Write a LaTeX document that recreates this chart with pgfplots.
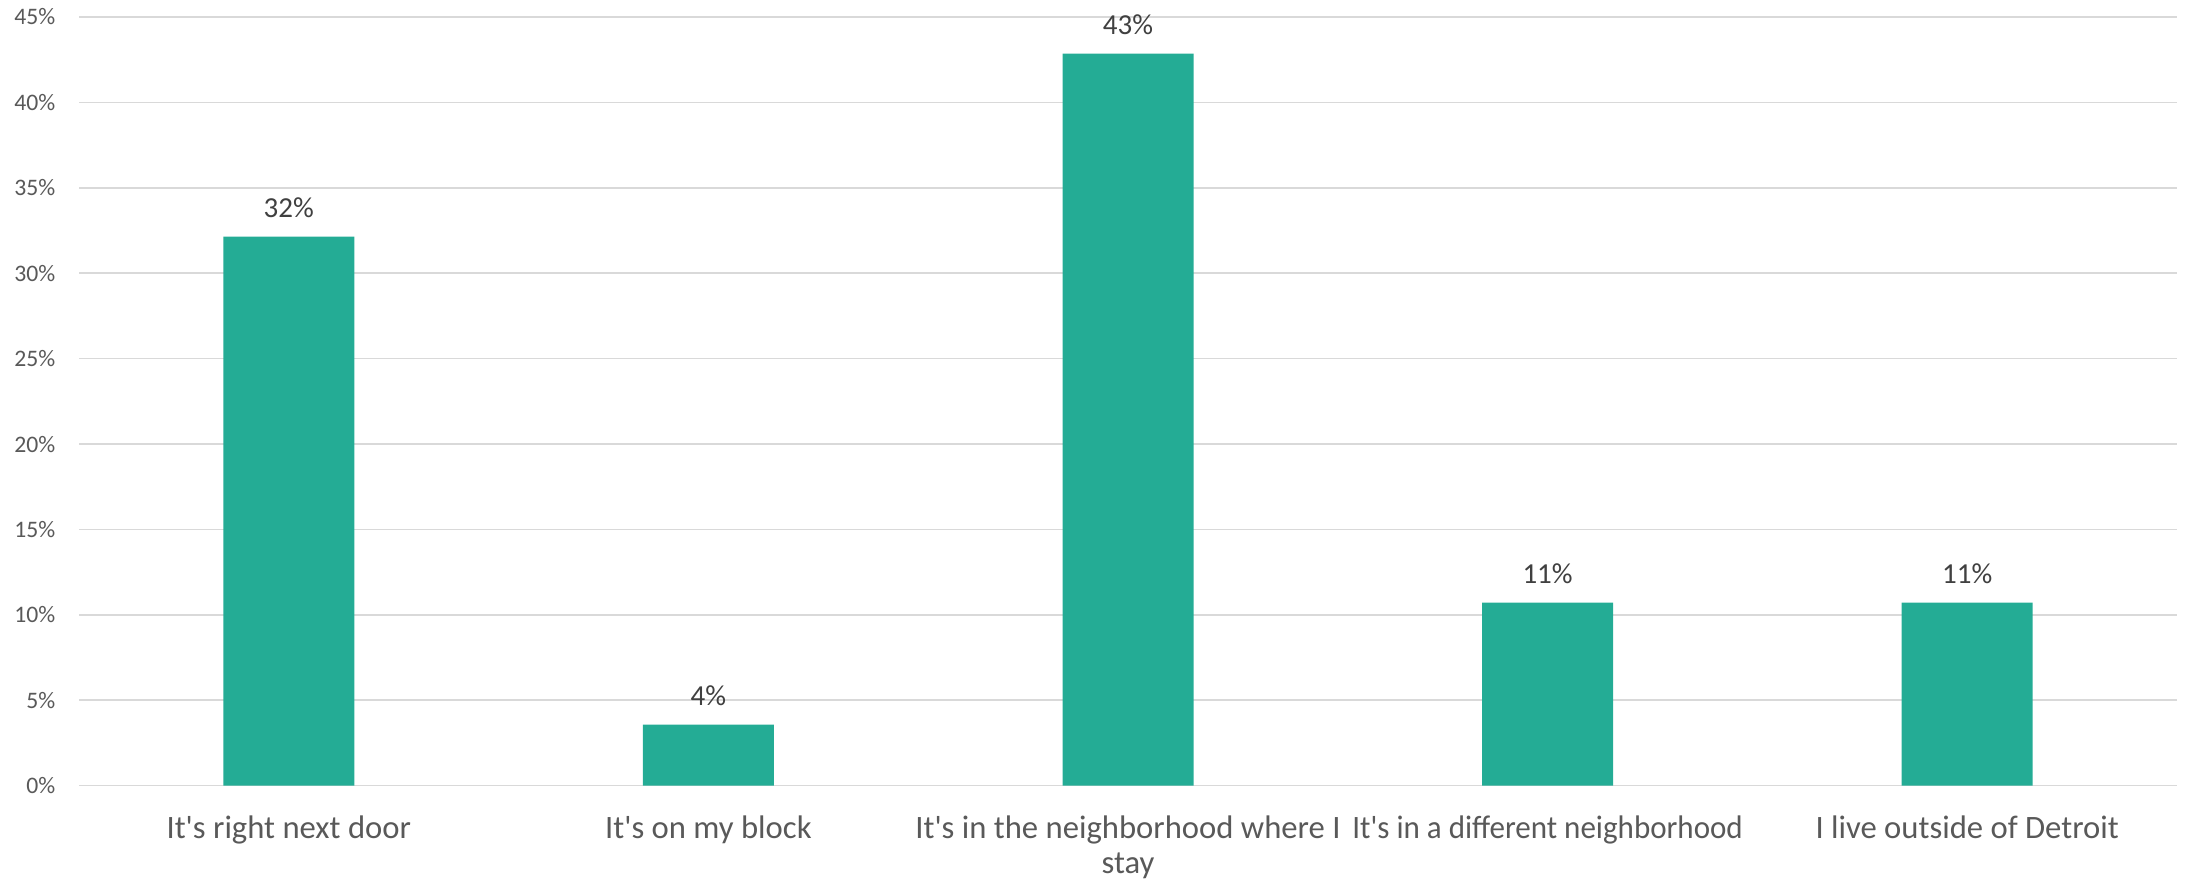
\documentclass[border=0pt]{standalone}
\usepackage{fontspec}
\setmainfont{Carlito}
\usepackage{graphicx}
\usepackage{pgfplots}
\pgfplotsset{compat=1.18}
\definecolor{barteal}{HTML}{24AC95}
\definecolor{gridgray}{HTML}{D9D9D9}
\definecolor{ticktext}{HTML}{595959}
\definecolor{labeltext}{HTML}{404040}
\newcommand{\q}{\textquotesingle}
\begin{document}
\begin{tikzpicture}
\path[use as bounding box] (-23.7pt,-28.9pt) rectangle (632.7pt,235.7pt);
\begin{axis}[
  at={(0,0)}, anchor=south west,
  scale only axis,
  width=629.4pt, height=230.6pt,
  ybar, bar width=39.3pt,
  xmin=-0.5, xmax=4.5,
  ymin=0, ymax=45,
  xtick=data,
  xticklabels={{It\q s right next door},{It\q s on my block},{It\q s in the neighborhood where I\\stay},{\scalebox{0.95}[1]{It\q s in a different neighborhood}},{I live outside of Detroit}},
  ytick={0,5,...,45},
  yticklabel={\pgfmathprintnumber{\tick}\%},
  /pgf/number format/assume math mode=true,
  ymajorgrids,
  grid style={draw=gridgray, line width=0.5pt},
  axis line style={draw=none},
  tick style={draw=none},
  xticklabel style={font={\fontsize{9.8}{10.6}\selectfont}, text=ticktext, align=center, inner sep=0pt, anchor=north, yshift=-4.5pt},
  yticklabel style={font={\fontsize{7.1}{8.5}\selectfont}, text=ticktext, inner sep=0pt, anchor=east, xshift=-6.9pt},
  nodes near coords={\pgfmathprintnumber[fixed,precision=0]{\pgfplotspointmeta}\%},
  every node near coord/.append style={font={\fontsize{8.7}{10}\selectfont}, text=labeltext, inner sep=0pt, anchor=south, yshift=5.5pt},
  clip=false,
]
\addplot[fill=barteal, draw=none] coordinates {(0,32.14) (1,3.57) (2,42.86) (3,10.71) (4,10.71)};
\end{axis}
\end{tikzpicture}
\end{document}
